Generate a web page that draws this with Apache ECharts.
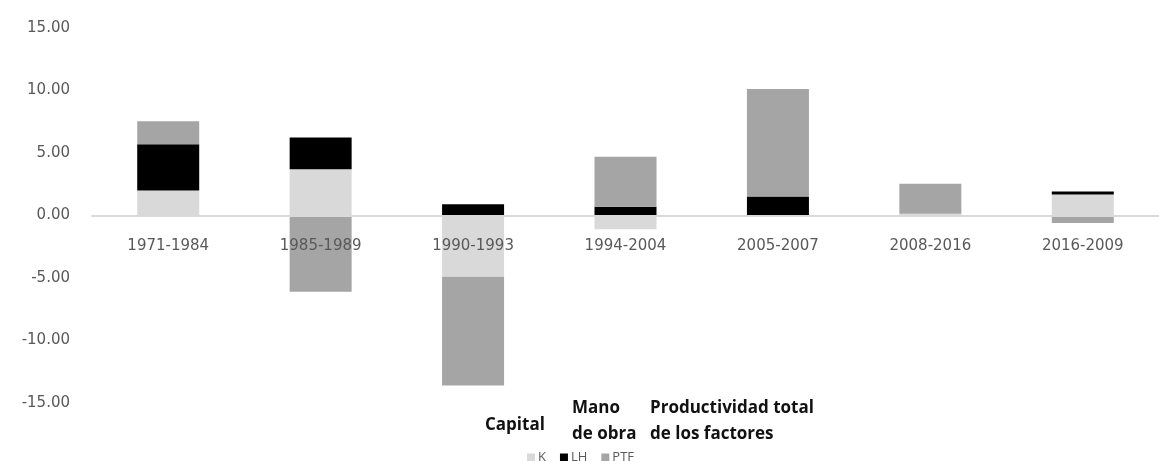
<!DOCTYPE html>
<html>
<head>
<meta charset="utf-8">
<script src="https://cdn.jsdelivr.net/npm/echarts@6/dist/echarts.min.js"></script>
<style>
  html, body { margin: 0; padding: 0; background: #fff; }
  #chart { width: 1159px; height: 461px; }
</style>
</head>
<body>
<div id="chart"></div>
<script>
var categories = ['1971-1984', '1985-1989', '1990-1993', '1994-2004', '2005-2007', '2008-2016', '2016-2009'];
var capitalK = [2.0, 3.7, -4.9, -1.1, 0.0, 0.15, 1.68];
var manoObraLH = [3.7, 2.55, 0.9, 0.7, 1.52, 0.0, 0.24];
var ptf = [1.85, -6.1, -8.7, 4.0, 8.6, 2.4, -0.6];

var chart = echarts.init(document.getElementById('chart'));

var labelFont = 'DejaVu Sans, sans-serif';
var noteFont = 'Open Sans, sans-serif';

var option = {
    animation: false,
    color: ['#d9d9d9', '#000000', '#a5a5a5'],
    grid: { left: 92, right: -17, top: 28, bottom: 58 },
    legend: {
        left: 522,
        top: 446,
        itemWidth: 8,
        itemHeight: 8,
        itemGap: 14,
        icon: 'rect',
        textStyle: { color: '#595959', fontSize: 13, fontFamily: noteFont, padding: [0, 0, 0, -2] },
        data: ['K', 'LH', 'PTF']
    },
    xAxis: {
        type: 'category',
        data: categories,
        z: 5,
        axisLine: { onZero: true, lineStyle: { color: '#d9d9d9', width: 2 } },
        axisTick: { show: false },
        // labels sit just under the zero line, on top of the bars
        axisLabel: { color: '#595959', fontSize: 15, fontFamily: labelFont, margin: -164, interval: 0 }
    },
    yAxis: {
        type: 'value',
        min: -15,
        max: 15,
        interval: 5,
        splitLine: { show: false },
        axisLine: { show: false },
        axisTick: { show: false },
        axisLabel: {
            color: '#595959', fontSize: 15, fontFamily: labelFont, margin: 22,
            formatter: function (v) { return v.toFixed(2); }
        }
    },
    series: [
        { name: 'K', type: 'bar', stack: 'total', data: capitalK, barWidth: 62 },
        { name: 'LH', type: 'bar', stack: 'total', data: manoObraLH, barWidth: 62 },
        { name: 'PTF', type: 'bar', stack: 'total', data: ptf, barWidth: 62 }
    ],
    graphic: [
        { type: 'text', left: 485, top: 412, style: { text: 'Capital', fill: '#111', font: 'bold 17px ' + noteFont, lineHeight: 26 } },
        { type: 'text', left: 572, top: 395, style: { text: 'Mano\nde obra', fill: '#111', font: 'bold 17px ' + noteFont, lineHeight: 26 } },
        { type: 'text', left: 650, top: 395, style: { text: 'Productividad total\nde los factores', fill: '#111', font: 'bold 17px ' + noteFont, lineHeight: 26 } }
    ]
};

chart.setOption(option);
</script>
</body>
</html>
